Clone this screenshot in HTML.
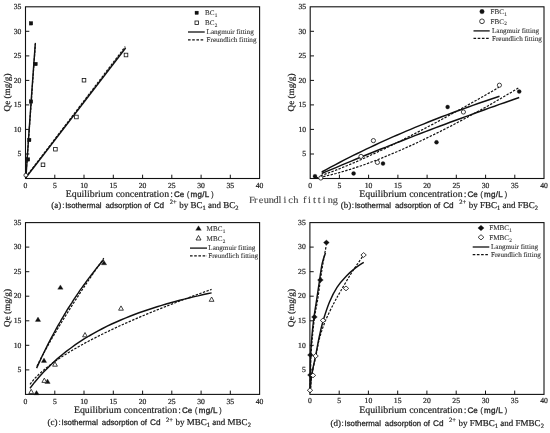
<!DOCTYPE html>
<html><head><meta charset="utf-8"><title>Isothermal adsorption</title>
<style>html,body{margin:0;padding:0;background:#fff}svg{display:block;text-rendering:geometricPrecision}</style></head><body>
<svg width="550" height="433" viewBox="0 0 550 433">
<rect width="550" height="433" fill="#fff"/>
<rect x="25.5" y="6.8" width="234.1" height="171.7" fill="none" stroke="#111" stroke-width="1.1"/>
<line x1="54.8" y1="178.5" x2="54.8" y2="174.7" stroke="#111" stroke-width="1"/>
<line x1="84.0" y1="178.5" x2="84.0" y2="174.7" stroke="#111" stroke-width="1"/>
<line x1="113.3" y1="178.5" x2="113.3" y2="174.7" stroke="#111" stroke-width="1"/>
<line x1="142.6" y1="178.5" x2="142.6" y2="174.7" stroke="#111" stroke-width="1"/>
<line x1="171.8" y1="178.5" x2="171.8" y2="174.7" stroke="#111" stroke-width="1"/>
<line x1="201.1" y1="178.5" x2="201.1" y2="174.7" stroke="#111" stroke-width="1"/>
<line x1="230.3" y1="178.5" x2="230.3" y2="174.7" stroke="#111" stroke-width="1"/>
<line x1="25.5" y1="154.0" x2="29.3" y2="154.0" stroke="#111" stroke-width="1"/>
<line x1="25.5" y1="129.4" x2="29.3" y2="129.4" stroke="#111" stroke-width="1"/>
<line x1="25.5" y1="104.9" x2="29.3" y2="104.9" stroke="#111" stroke-width="1"/>
<line x1="25.5" y1="80.4" x2="29.3" y2="80.4" stroke="#111" stroke-width="1"/>
<line x1="25.5" y1="55.9" x2="29.3" y2="55.9" stroke="#111" stroke-width="1"/>
<line x1="25.5" y1="31.3" x2="29.3" y2="31.3" stroke="#111" stroke-width="1"/>
<path d="M25.9,178.0C26.4,170.8 27.8,149.3 28.8,135.0C29.8,120.7 30.7,107.2 31.8,92.0C32.9,76.8 34.7,51.6 35.3,43.5" fill="none" stroke="#111" stroke-width="1.45"/>
<path d="M25.7,178.0C26.2,171.0 27.8,150.2 28.8,136.0C29.8,121.8 30.8,108.6 31.9,93.0C33.0,77.4 34.9,50.8 35.5,42.3" fill="none" stroke="#111" stroke-width="1.2" stroke-dasharray="2.4 1.4"/>
<path d="M25.6,178.0L125.6,48.0" fill="none" stroke="#111" stroke-width="1.45"/>
<path d="M25.6,177.4L125.3,46.6" fill="none" stroke="#111" stroke-width="1.2" stroke-dasharray="2.4 1.4"/>
<rect x="29.20" y="21.50" width="3.60" height="3.60" fill="#111" stroke="#111" stroke-width="0.3"/>
<rect x="33.80" y="62.20" width="3.60" height="3.60" fill="#111" stroke="#111" stroke-width="0.3"/>
<rect x="29.20" y="99.80" width="3.60" height="3.60" fill="#111" stroke="#111" stroke-width="0.3"/>
<rect x="27.40" y="138.20" width="3.60" height="3.60" fill="#111" stroke="#111" stroke-width="0.3"/>
<rect x="26.20" y="157.60" width="3.60" height="3.60" fill="#111" stroke="#111" stroke-width="0.3"/>
<rect x="124.20" y="53.20" width="3.60" height="3.60" fill="#fff" stroke="#111" stroke-width="0.8"/>
<rect x="82.20" y="78.40" width="3.60" height="3.60" fill="#fff" stroke="#111" stroke-width="0.8"/>
<rect x="74.60" y="115.20" width="3.60" height="3.60" fill="#fff" stroke="#111" stroke-width="0.8"/>
<rect x="53.60" y="147.40" width="3.60" height="3.60" fill="#fff" stroke="#111" stroke-width="0.8"/>
<rect x="41.20" y="163.00" width="3.60" height="3.60" fill="#fff" stroke="#111" stroke-width="0.8"/>
<circle cx="25.8" cy="175.2" r="1.89" fill="#fff" stroke="#111" stroke-width="0.8"/>
<text x="25.5" y="187.5" font-family='"Liberation Serif", serif' font-size="7.7" text-anchor="middle" fill="#222" stroke="#222" stroke-width="0.2">0</text>
<text x="54.8" y="187.5" font-family='"Liberation Serif", serif' font-size="7.7" text-anchor="middle" fill="#222" stroke="#222" stroke-width="0.2">5</text>
<text x="84.0" y="187.5" font-family='"Liberation Serif", serif' font-size="7.7" text-anchor="middle" fill="#222" stroke="#222" stroke-width="0.2">10</text>
<text x="113.3" y="187.5" font-family='"Liberation Serif", serif' font-size="7.7" text-anchor="middle" fill="#222" stroke="#222" stroke-width="0.2">15</text>
<text x="142.6" y="187.5" font-family='"Liberation Serif", serif' font-size="7.7" text-anchor="middle" fill="#222" stroke="#222" stroke-width="0.2">20</text>
<text x="171.8" y="187.5" font-family='"Liberation Serif", serif' font-size="7.7" text-anchor="middle" fill="#222" stroke="#222" stroke-width="0.2">25</text>
<text x="201.1" y="187.5" font-family='"Liberation Serif", serif' font-size="7.7" text-anchor="middle" fill="#222" stroke="#222" stroke-width="0.2">30</text>
<text x="230.3" y="187.5" font-family='"Liberation Serif", serif' font-size="7.7" text-anchor="middle" fill="#222" stroke="#222" stroke-width="0.2">35</text>
<text x="259.6" y="187.5" font-family='"Liberation Serif", serif' font-size="7.7" text-anchor="middle" fill="#222" stroke="#222" stroke-width="0.2">40</text>
<text x="21.4" y="156.2" font-family='"Liberation Serif", serif' font-size="7.7" text-anchor="end" fill="#222" stroke="#222" stroke-width="0.2">5</text>
<text x="21.4" y="131.6" font-family='"Liberation Serif", serif' font-size="7.7" text-anchor="end" fill="#222" stroke="#222" stroke-width="0.2">10</text>
<text x="21.4" y="107.1" font-family='"Liberation Serif", serif' font-size="7.7" text-anchor="end" fill="#222" stroke="#222" stroke-width="0.2">15</text>
<text x="21.4" y="82.6" font-family='"Liberation Serif", serif' font-size="7.7" text-anchor="end" fill="#222" stroke="#222" stroke-width="0.2">20</text>
<text x="21.4" y="58.1" font-family='"Liberation Serif", serif' font-size="7.7" text-anchor="end" fill="#222" stroke="#222" stroke-width="0.2">25</text>
<text x="21.4" y="33.5" font-family='"Liberation Serif", serif' font-size="7.7" text-anchor="end" fill="#222" stroke="#222" stroke-width="0.2">30</text>
<text x="21.4" y="9.0" font-family='"Liberation Serif", serif' font-size="7.7" text-anchor="end" fill="#222" stroke="#222" stroke-width="0.2">35</text>
<text transform="translate(10.3,92.5) rotate(-90)" font-family='"Liberation Serif", serif' font-size="9.2" text-anchor="middle" fill="#222" stroke="#222" stroke-width="0.2">Qe (mg/g)</text>
<text x="65.8" y="196.7" font-size="9.82" fill="#222" stroke="#222" stroke-width="0.2" font-family='"Liberation Serif", serif'>Equilibrium concentration</text>
<text x="170.4" y="196.7" font-family='"Liberation Sans", sans-serif' font-size="8" fill="#222" stroke="#222" stroke-width="0.3">:</text>
<text x="174.0" y="196.7" font-family='"Liberation Sans", sans-serif' font-size="8" fill="#222" stroke="#222" stroke-width="0.3">Ce</text>
<text x="186.7" y="196.7" font-family='"Liberation Sans", sans-serif' font-size="8.4" fill="#222" stroke="#222" stroke-width="0.1">(</text>
<text x="190.6" y="196.7" font-family='"Liberation Sans", sans-serif' font-size="8" fill="#222" stroke="#222" stroke-width="0.3" letter-spacing="0.3">mg/L</text>
<text x="211.0" y="196.7" font-family='"Liberation Sans", sans-serif' font-size="8.4" fill="#222" stroke="#222" stroke-width="0.1">)</text>
<text x="51.3" y="207.9" font-size="9" fill="#222" stroke="#222" stroke-width="0.2" font-family='"Liberation Serif", serif'>(a)</text>
<text x="62.2" y="207.7" font-family='"Liberation Sans", sans-serif' font-size="8" fill="#222" stroke="#222" stroke-width="0.2">:</text>
<text x="65.2" y="207.7" font-family='"Liberation Sans", sans-serif' font-size="7.8" fill="#222" stroke="#222" stroke-width="0.25">Isothermal</text>
<text x="105.5" y="207.7" font-family='"Liberation Sans", sans-serif' font-size="7.8" fill="#222" stroke="#222" stroke-width="0.25">adsorption</text>
<text x="144.2" y="207.7" font-family='"Liberation Sans", sans-serif' font-size="7.8" fill="#222" stroke="#222" stroke-width="0.25">of</text>
<text x="153.7" y="207.7" font-family='"Liberation Sans", sans-serif' font-size="8.2" fill="#222" stroke="#222" stroke-width="0.25">Cd</text>
<text x="169.7" y="204.3" font-size="6.5" fill="#222" stroke="#222" stroke-width="0.2" font-family='"Liberation Serif", serif'>2+</text>
<text x="179.3" y="207.9" font-size="9" fill="#222" stroke="#222" stroke-width="0.2" font-family='"Liberation Serif", serif'>by BC<tspan font-size="6.5" dy="2">1</tspan><tspan dy="-2"> and BC</tspan><tspan font-size="6.5" dy="2">2</tspan></text>
<rect x="194.99" y="11.09" width="3.42" height="3.42" fill="#111" stroke="#111" stroke-width="0.3"/>
<rect x="194.99" y="20.99" width="3.42" height="3.42" fill="#fff" stroke="#111" stroke-width="0.8"/>
<line x1="188" y1="32" x2="204.7" y2="32" stroke="#111" stroke-width="1.3"/>
<line x1="188" y1="39.9" x2="204.7" y2="39.9" stroke="#111" stroke-width="1.3" stroke-dasharray="2.6 1.6"/>
<text x="205" y="15.1" font-size="7.1" fill="#333" stroke="#333" stroke-width="0.1" font-family='"Liberation Serif", serif'>BC<tspan font-size="5.2" dy="1.8" dx="0.3">1</tspan></text>
<text x="205" y="24.7" font-size="7.1" fill="#333" stroke="#333" stroke-width="0.1" font-family='"Liberation Serif", serif'>BC<tspan font-size="5.2" dy="1.8" dx="0.3">2</tspan></text>
<text x="206.6" y="34" font-size="7.1" fill="#333" stroke="#333" stroke-width="0.1" font-family='"Liberation Serif", serif'>Langmuir fitting</text>
<text x="206.6" y="42" font-size="7.1" fill="#333" stroke="#333" stroke-width="0.1" font-family='"Liberation Serif", serif'>Freundlich fitting</text>
<text transform="translate(249,202.6) scale(1.08,1)" x="0.00 4.56 9.11 13.67 18.22 22.78 27.33 31.89 36.44 41.00 45.56 50.11 54.67 59.22 63.78 68.33 72.89 77.44" y="0" font-family='"Liberation Serif", serif' font-size="9.6" fill="#444" stroke="#444" stroke-width="0.1">Freundlich fitting</text>
<rect x="310.2" y="6.8" width="233.8" height="171.7" fill="none" stroke="#111" stroke-width="1.1"/>
<line x1="339.4" y1="178.5" x2="339.4" y2="174.7" stroke="#111" stroke-width="1"/>
<line x1="368.6" y1="178.5" x2="368.6" y2="174.7" stroke="#111" stroke-width="1"/>
<line x1="397.9" y1="178.5" x2="397.9" y2="174.7" stroke="#111" stroke-width="1"/>
<line x1="427.1" y1="178.5" x2="427.1" y2="174.7" stroke="#111" stroke-width="1"/>
<line x1="456.3" y1="178.5" x2="456.3" y2="174.7" stroke="#111" stroke-width="1"/>
<line x1="485.6" y1="178.5" x2="485.6" y2="174.7" stroke="#111" stroke-width="1"/>
<line x1="514.8" y1="178.5" x2="514.8" y2="174.7" stroke="#111" stroke-width="1"/>
<line x1="310.2" y1="154.0" x2="314.0" y2="154.0" stroke="#111" stroke-width="1"/>
<line x1="310.2" y1="129.4" x2="314.0" y2="129.4" stroke="#111" stroke-width="1"/>
<line x1="310.2" y1="104.9" x2="314.0" y2="104.9" stroke="#111" stroke-width="1"/>
<line x1="310.2" y1="80.4" x2="314.0" y2="80.4" stroke="#111" stroke-width="1"/>
<line x1="310.2" y1="55.9" x2="314.0" y2="55.9" stroke="#111" stroke-width="1"/>
<line x1="310.2" y1="31.3" x2="314.0" y2="31.3" stroke="#111" stroke-width="1"/>
<path d="M321.7,172.0L326.2,169.6L330.6,167.2L335.1,164.8L339.5,162.5L343.9,160.2L348.4,157.9L352.8,155.7L357.3,153.5L361.7,151.3L366.2,149.2L370.6,147.1L375.1,145.0L379.5,142.9L383.9,140.9L388.4,138.9L392.8,136.9L397.3,135.0L401.7,133.1L406.2,131.2L410.6,129.3L415.1,127.4L419.5,125.6L424.0,123.8L428.4,122.0L432.8,120.3L437.3,118.5L441.7,116.8L446.2,115.1L450.6,113.5L455.1,111.8L459.5,110.2L464.0,108.6L468.4,107.0L472.8,105.4L477.3,103.8L481.7,102.3L486.2,100.8L490.6,99.3L495.1,97.8L499.5,96.3" fill="none" stroke="#111" stroke-width="1.45" stroke-linejoin="round"/>
<path d="M321.7,173.5L326.7,171.4L331.6,169.3L336.5,167.3L341.5,165.2L346.4,163.1L351.3,161.1L356.3,159.0L361.2,157.0L366.1,155.0L371.1,153.0L376.0,151.0L380.9,149.0L385.9,147.1L390.8,145.1L395.8,143.1L400.7,141.2L405.6,139.3L410.6,137.3L415.5,135.4L420.4,133.5L425.4,131.6L430.3,129.8L435.2,127.9L440.2,126.0L445.1,124.2L450.1,122.3L455.0,120.5L459.9,118.7L464.9,116.9L469.8,115.1L474.7,113.3L479.7,111.5L484.6,109.7L489.5,107.9L494.5,106.2L499.4,104.4L504.4,102.7L509.3,101.0L514.2,99.2L519.2,97.5" fill="none" stroke="#111" stroke-width="1.45" stroke-linejoin="round"/>
<path d="M320.7,175.6L325.2,174.1L329.6,172.5L334.1,170.9L338.5,169.1L343.0,167.3L347.5,165.5L351.9,163.6L356.4,161.7L360.8,159.7L365.3,157.7L369.7,155.7L374.2,153.6L378.6,151.5L383.1,149.4L387.6,147.3L392.0,145.1L396.5,142.9L400.9,140.7L405.4,138.4L409.8,136.2L414.3,133.9L418.7,131.6L423.2,129.3L427.6,126.9L432.1,124.6L436.6,122.2L441.0,119.8L445.5,117.4L449.9,115.0L454.4,112.5L458.8,110.1L463.3,107.6L467.7,105.1L472.2,102.6L476.7,100.1L481.1,97.6L485.6,95.0L490.0,92.5L494.5,89.9L498.9,87.3" fill="none" stroke="#111" stroke-width="1.2" stroke-linejoin="round" stroke-dasharray="2.4 1.4"/>
<path d="M315.7,177.9L320.8,177.1L325.8,176.0L330.9,174.8L336.0,173.5L341.0,172.1L346.1,170.6L351.2,169.1L356.2,167.4L361.3,165.7L366.4,163.9L371.4,162.0L376.5,160.1L381.6,158.1L386.6,156.0L391.7,153.9L396.8,151.8L401.8,149.6L406.9,147.3L412.0,145.1L417.0,142.7L422.1,140.3L427.1,137.9L432.2,135.4L437.3,132.9L442.3,130.4L447.4,127.8L452.5,125.2L457.5,122.5L462.6,119.8L467.7,117.1L472.7,114.3L477.8,111.5L482.9,108.7L487.9,105.9L493.0,103.0L498.1,100.0L503.1,97.1L508.2,94.1L513.3,91.1L518.3,88.0" fill="none" stroke="#111" stroke-width="1.2" stroke-linejoin="round" stroke-dasharray="2.4 1.4"/>
<circle cx="315.0" cy="176.2" r="2.00" fill="#111" stroke="#111" stroke-width="0.3"/>
<circle cx="353.6" cy="173.4" r="2.00" fill="#111" stroke="#111" stroke-width="0.3"/>
<circle cx="383.0" cy="163.6" r="2.00" fill="#111" stroke="#111" stroke-width="0.3"/>
<circle cx="447.6" cy="107.0" r="2.00" fill="#111" stroke="#111" stroke-width="0.3"/>
<circle cx="436.5" cy="142.3" r="2.00" fill="#111" stroke="#111" stroke-width="0.3"/>
<circle cx="519.2" cy="91.6" r="2.00" fill="#111" stroke="#111" stroke-width="0.3"/>
<circle cx="320.8" cy="178.0" r="2.10" fill="#fff" stroke="#111" stroke-width="0.8"/>
<circle cx="361.0" cy="156.4" r="2.10" fill="#fff" stroke="#111" stroke-width="0.8"/>
<circle cx="373.4" cy="140.6" r="2.10" fill="#fff" stroke="#111" stroke-width="0.8"/>
<circle cx="377.4" cy="162.4" r="2.10" fill="#fff" stroke="#111" stroke-width="0.8"/>
<circle cx="463.4" cy="112.0" r="2.10" fill="#fff" stroke="#111" stroke-width="0.8"/>
<circle cx="499.4" cy="85.2" r="2.10" fill="#fff" stroke="#111" stroke-width="0.8"/>
<text x="310.2" y="187.5" font-family='"Liberation Serif", serif' font-size="7.7" text-anchor="middle" fill="#222" stroke="#222" stroke-width="0.2">0</text>
<text x="339.4" y="187.5" font-family='"Liberation Serif", serif' font-size="7.7" text-anchor="middle" fill="#222" stroke="#222" stroke-width="0.2">5</text>
<text x="368.6" y="187.5" font-family='"Liberation Serif", serif' font-size="7.7" text-anchor="middle" fill="#222" stroke="#222" stroke-width="0.2">10</text>
<text x="397.9" y="187.5" font-family='"Liberation Serif", serif' font-size="7.7" text-anchor="middle" fill="#222" stroke="#222" stroke-width="0.2">15</text>
<text x="427.1" y="187.5" font-family='"Liberation Serif", serif' font-size="7.7" text-anchor="middle" fill="#222" stroke="#222" stroke-width="0.2">20</text>
<text x="456.3" y="187.5" font-family='"Liberation Serif", serif' font-size="7.7" text-anchor="middle" fill="#222" stroke="#222" stroke-width="0.2">25</text>
<text x="485.6" y="187.5" font-family='"Liberation Serif", serif' font-size="7.7" text-anchor="middle" fill="#222" stroke="#222" stroke-width="0.2">30</text>
<text x="514.8" y="187.5" font-family='"Liberation Serif", serif' font-size="7.7" text-anchor="middle" fill="#222" stroke="#222" stroke-width="0.2">35</text>
<text x="544.0" y="187.5" font-family='"Liberation Serif", serif' font-size="7.7" text-anchor="middle" fill="#222" stroke="#222" stroke-width="0.2">40</text>
<text x="306.1" y="156.2" font-family='"Liberation Serif", serif' font-size="7.7" text-anchor="end" fill="#222" stroke="#222" stroke-width="0.2">5</text>
<text x="306.1" y="131.6" font-family='"Liberation Serif", serif' font-size="7.7" text-anchor="end" fill="#222" stroke="#222" stroke-width="0.2">10</text>
<text x="306.1" y="107.1" font-family='"Liberation Serif", serif' font-size="7.7" text-anchor="end" fill="#222" stroke="#222" stroke-width="0.2">15</text>
<text x="306.1" y="82.6" font-family='"Liberation Serif", serif' font-size="7.7" text-anchor="end" fill="#222" stroke="#222" stroke-width="0.2">20</text>
<text x="306.1" y="58.1" font-family='"Liberation Serif", serif' font-size="7.7" text-anchor="end" fill="#222" stroke="#222" stroke-width="0.2">25</text>
<text x="306.1" y="33.5" font-family='"Liberation Serif", serif' font-size="7.7" text-anchor="end" fill="#222" stroke="#222" stroke-width="0.2">30</text>
<text x="306.1" y="9.0" font-family='"Liberation Serif", serif' font-size="7.7" text-anchor="end" fill="#222" stroke="#222" stroke-width="0.2">35</text>
<text transform="translate(293.7,92.5) rotate(-90)" font-family='"Liberation Serif", serif' font-size="9.2" text-anchor="middle" fill="#222" stroke="#222" stroke-width="0.2">Qe (mg/g)</text>
<text x="359.3" y="196.7" font-size="9.82" fill="#222" stroke="#222" stroke-width="0.2" font-family='"Liberation Serif", serif'>Equilibrium concentration</text>
<text x="463.9" y="196.7" font-family='"Liberation Sans", sans-serif' font-size="8" fill="#222" stroke="#222" stroke-width="0.3">:</text>
<text x="467.5" y="196.7" font-family='"Liberation Sans", sans-serif' font-size="8" fill="#222" stroke="#222" stroke-width="0.3">Ce</text>
<text x="480.2" y="196.7" font-family='"Liberation Sans", sans-serif' font-size="8.4" fill="#222" stroke="#222" stroke-width="0.1">(</text>
<text x="484.1" y="196.7" font-family='"Liberation Sans", sans-serif' font-size="8" fill="#222" stroke="#222" stroke-width="0.3" letter-spacing="0.3">mg/L</text>
<text x="504.5" y="196.7" font-family='"Liberation Sans", sans-serif' font-size="8.4" fill="#222" stroke="#222" stroke-width="0.1">)</text>
<text x="340.8" y="207.9" font-size="9" fill="#222" stroke="#222" stroke-width="0.2" font-family='"Liberation Serif", serif'>(b)</text>
<text x="351.7" y="207.7" font-family='"Liberation Sans", sans-serif' font-size="8" fill="#222" stroke="#222" stroke-width="0.2">:</text>
<text x="354.7" y="207.7" font-family='"Liberation Sans", sans-serif' font-size="7.8" fill="#222" stroke="#222" stroke-width="0.25">Isothermal</text>
<text x="395.0" y="207.7" font-family='"Liberation Sans", sans-serif' font-size="7.8" fill="#222" stroke="#222" stroke-width="0.25">adsorption</text>
<text x="433.7" y="207.7" font-family='"Liberation Sans", sans-serif' font-size="7.8" fill="#222" stroke="#222" stroke-width="0.25">of</text>
<text x="443.2" y="207.7" font-family='"Liberation Sans", sans-serif' font-size="8.2" fill="#222" stroke="#222" stroke-width="0.25">Cd</text>
<text x="459.2" y="204.3" font-size="6.5" fill="#222" stroke="#222" stroke-width="0.2" font-family='"Liberation Serif", serif'>2+</text>
<text x="468.8" y="207.9" font-size="9" fill="#222" stroke="#222" stroke-width="0.2" font-family='"Liberation Serif", serif'>by FBC<tspan font-size="6.5" dy="2">1</tspan><tspan dy="-2"> and FBC</tspan><tspan font-size="6.5" dy="2">2</tspan></text>
<circle cx="482.0" cy="11.6" r="2.24" fill="#111" stroke="#111" stroke-width="0.3"/>
<circle cx="482.0" cy="21.3" r="2.35" fill="#fff" stroke="#111" stroke-width="0.8"/>
<line x1="473.5" y1="30.9" x2="489.7" y2="30.9" stroke="#111" stroke-width="1.3"/>
<line x1="473.5" y1="38.3" x2="489.7" y2="38.3" stroke="#111" stroke-width="1.3" stroke-dasharray="2.6 1.6"/>
<text x="490.5" y="13.9" font-size="7.1" fill="#333" stroke="#333" stroke-width="0.1" font-family='"Liberation Serif", serif'>FBC<tspan font-size="5.2" dy="1.8" dx="0.3">1</tspan></text>
<text x="490.5" y="23.5" font-size="7.1" fill="#333" stroke="#333" stroke-width="0.1" font-family='"Liberation Serif", serif'>FBC<tspan font-size="5.2" dy="1.8" dx="0.3">2</tspan></text>
<text x="492" y="32.9" font-size="7.1" fill="#333" stroke="#333" stroke-width="0.1" font-family='"Liberation Serif", serif'>Langmuir fitting</text>
<text x="492" y="40.6" font-size="7.1" fill="#333" stroke="#333" stroke-width="0.1" font-family='"Liberation Serif", serif'>Freundlich fitting</text>
<rect x="25.5" y="222.6" width="234.1" height="171.8" fill="none" stroke="#111" stroke-width="1.1"/>
<line x1="54.8" y1="394.4" x2="54.8" y2="390.6" stroke="#111" stroke-width="1"/>
<line x1="84.0" y1="394.4" x2="84.0" y2="390.6" stroke="#111" stroke-width="1"/>
<line x1="113.3" y1="394.4" x2="113.3" y2="390.6" stroke="#111" stroke-width="1"/>
<line x1="142.6" y1="394.4" x2="142.6" y2="390.6" stroke="#111" stroke-width="1"/>
<line x1="171.8" y1="394.4" x2="171.8" y2="390.6" stroke="#111" stroke-width="1"/>
<line x1="201.1" y1="394.4" x2="201.1" y2="390.6" stroke="#111" stroke-width="1"/>
<line x1="230.3" y1="394.4" x2="230.3" y2="390.6" stroke="#111" stroke-width="1"/>
<line x1="25.5" y1="369.9" x2="29.3" y2="369.9" stroke="#111" stroke-width="1"/>
<line x1="25.5" y1="345.3" x2="29.3" y2="345.3" stroke="#111" stroke-width="1"/>
<line x1="25.5" y1="320.8" x2="29.3" y2="320.8" stroke="#111" stroke-width="1"/>
<line x1="25.5" y1="296.2" x2="29.3" y2="296.2" stroke="#111" stroke-width="1"/>
<line x1="25.5" y1="271.7" x2="29.3" y2="271.7" stroke="#111" stroke-width="1"/>
<line x1="25.5" y1="247.1" x2="29.3" y2="247.1" stroke="#111" stroke-width="1"/>
<path d="M36.6,368.1L38.3,364.4L40.0,360.8L41.6,357.2L43.3,353.7L45.0,350.3L46.7,346.9L48.3,343.6L50.0,340.4L51.7,337.2L53.4,334.0L55.0,331.0L56.7,327.9L58.4,324.9L60.1,322.0L61.7,319.1L63.4,316.3L65.1,313.5L66.7,310.7L68.4,308.0L70.1,305.4L71.8,302.8L73.4,300.2L75.1,297.6L76.8,295.1L78.5,292.7L80.1,290.2L81.8,287.8L83.5,285.5L85.2,283.2L86.8,280.9L88.5,278.6L90.2,276.4L91.9,274.2L93.5,272.1L95.2,269.9L96.9,267.8L98.6,265.8L100.2,263.7L101.9,261.7L103.6,259.7" fill="none" stroke="#111" stroke-width="1.45" stroke-linejoin="round"/>
<path d="M37.0,366.2L38.6,362.9L40.3,359.6L42.0,356.4L43.7,353.3L45.3,350.2L47.0,347.2L48.7,344.2L50.3,341.3L52.0,338.3L53.7,335.5L55.4,332.6L57.0,329.8L58.7,327.0L60.4,324.2L62.0,321.5L63.7,318.8L65.4,316.1L67.0,313.4L68.7,310.7L70.4,308.1L72.1,305.4L73.7,302.8L75.4,300.2L77.1,297.7L78.7,295.1L80.4,292.6L82.1,290.0L83.8,287.5L85.4,285.0L87.1,282.5L88.8,280.0L90.4,277.6L92.1,275.1L93.8,272.7L95.5,270.2L97.1,267.8L98.8,265.4L100.5,263.0L102.1,260.6L103.8,258.2" fill="none" stroke="#111" stroke-width="1.2" stroke-linejoin="round" stroke-dasharray="2.4 1.4"/>
<path d="M30.0,388.2L34.5,382.4L39.1,377.1L43.6,372.1L48.2,367.4L52.7,363.0L57.2,358.9L61.8,355.0L66.3,351.4L70.9,348.0L75.4,344.7L79.9,341.7L84.5,338.7L89.0,336.0L93.6,333.4L98.1,330.9L102.6,328.5L107.2,326.2L111.7,324.0L116.3,322.0L120.8,320.0L125.3,318.1L129.9,316.3L134.4,314.5L139.0,312.8L143.5,311.2L148.0,309.7L152.6,308.2L157.1,306.8L161.7,305.4L166.2,304.0L170.7,302.7L175.3,301.5L179.8,300.3L184.4,299.1L188.9,298.0L193.4,296.9L198.0,295.9L202.5,294.8L207.1,293.8L211.6,292.9" fill="none" stroke="#111" stroke-width="1.45" stroke-linejoin="round"/>
<path d="M30.0,384.3L34.5,378.7L39.1,374.1L43.6,370.1L48.2,366.4L52.7,363.0L57.2,359.8L61.8,356.8L66.3,353.9L70.9,351.1L75.4,348.5L79.9,345.9L84.5,343.4L89.0,340.9L93.6,338.6L98.1,336.3L102.6,334.0L107.2,331.8L111.7,329.6L116.3,327.5L120.8,325.4L125.3,323.4L129.9,321.4L134.4,319.4L139.0,317.4L143.5,315.5L148.0,313.6L152.6,311.7L157.1,309.9L161.7,308.1L166.2,306.3L170.7,304.5L175.3,302.8L179.8,301.0L184.4,299.3L188.9,297.6L193.4,295.9L198.0,294.3L202.5,292.6L207.1,291.0L211.6,289.4" fill="none" stroke="#111" stroke-width="1.2" stroke-linejoin="round" stroke-dasharray="2.4 1.4"/>
<path d="M60.4,284.9L63.1,289.2L57.7,289.2Z" fill="#111" stroke="#111" stroke-width="0.3"/>
<path d="M104.0,260.5L106.7,264.8L101.3,264.8Z" fill="#111" stroke="#111" stroke-width="0.3"/>
<path d="M38.0,317.1L40.7,321.4L35.3,321.4Z" fill="#111" stroke="#111" stroke-width="0.3"/>
<path d="M44.0,358.1L46.7,362.4L41.3,362.4Z" fill="#111" stroke="#111" stroke-width="0.3"/>
<path d="M47.5,379.1L50.2,383.4L44.8,383.4Z" fill="#111" stroke="#111" stroke-width="0.3"/>
<path d="M36.5,390.5L39.2,394.8L33.8,394.8Z" fill="#111" stroke="#111" stroke-width="0.3"/>
<path d="M85.0,332.5L87.4,336.8L82.6,336.8Z" fill="#fff" stroke="#111" stroke-width="0.8"/>
<path d="M55.0,361.9L57.4,366.2L52.6,366.2Z" fill="#fff" stroke="#111" stroke-width="0.8"/>
<path d="M44.3,378.1L46.7,382.4L41.9,382.4Z" fill="#fff" stroke="#111" stroke-width="0.8"/>
<path d="M121.0,305.9L123.4,310.2L118.6,310.2Z" fill="#fff" stroke="#111" stroke-width="0.8"/>
<path d="M211.6,297.0L214.0,301.3L209.2,301.3Z" fill="#fff" stroke="#111" stroke-width="0.8"/>
<path d="M31.2,389.3L33.6,393.6L28.8,393.6Z" fill="#fff" stroke="#111" stroke-width="0.8"/>
<text x="25.5" y="403.6" font-family='"Liberation Serif", serif' font-size="7.7" text-anchor="middle" fill="#222" stroke="#222" stroke-width="0.2">0</text>
<text x="54.8" y="403.6" font-family='"Liberation Serif", serif' font-size="7.7" text-anchor="middle" fill="#222" stroke="#222" stroke-width="0.2">5</text>
<text x="84.0" y="403.6" font-family='"Liberation Serif", serif' font-size="7.7" text-anchor="middle" fill="#222" stroke="#222" stroke-width="0.2">10</text>
<text x="113.3" y="403.6" font-family='"Liberation Serif", serif' font-size="7.7" text-anchor="middle" fill="#222" stroke="#222" stroke-width="0.2">15</text>
<text x="142.6" y="403.6" font-family='"Liberation Serif", serif' font-size="7.7" text-anchor="middle" fill="#222" stroke="#222" stroke-width="0.2">20</text>
<text x="171.8" y="403.6" font-family='"Liberation Serif", serif' font-size="7.7" text-anchor="middle" fill="#222" stroke="#222" stroke-width="0.2">25</text>
<text x="201.1" y="403.6" font-family='"Liberation Serif", serif' font-size="7.7" text-anchor="middle" fill="#222" stroke="#222" stroke-width="0.2">30</text>
<text x="230.3" y="403.6" font-family='"Liberation Serif", serif' font-size="7.7" text-anchor="middle" fill="#222" stroke="#222" stroke-width="0.2">35</text>
<text x="259.6" y="403.6" font-family='"Liberation Serif", serif' font-size="7.7" text-anchor="middle" fill="#222" stroke="#222" stroke-width="0.2">40</text>
<text x="21.4" y="372.1" font-family='"Liberation Serif", serif' font-size="7.7" text-anchor="end" fill="#222" stroke="#222" stroke-width="0.2">5</text>
<text x="21.4" y="347.5" font-family='"Liberation Serif", serif' font-size="7.7" text-anchor="end" fill="#222" stroke="#222" stroke-width="0.2">10</text>
<text x="21.4" y="323.0" font-family='"Liberation Serif", serif' font-size="7.7" text-anchor="end" fill="#222" stroke="#222" stroke-width="0.2">15</text>
<text x="21.4" y="298.4" font-family='"Liberation Serif", serif' font-size="7.7" text-anchor="end" fill="#222" stroke="#222" stroke-width="0.2">20</text>
<text x="21.4" y="273.9" font-family='"Liberation Serif", serif' font-size="7.7" text-anchor="end" fill="#222" stroke="#222" stroke-width="0.2">25</text>
<text x="21.4" y="249.3" font-family='"Liberation Serif", serif' font-size="7.7" text-anchor="end" fill="#222" stroke="#222" stroke-width="0.2">30</text>
<text x="21.4" y="224.8" font-family='"Liberation Serif", serif' font-size="7.7" text-anchor="end" fill="#222" stroke="#222" stroke-width="0.2">35</text>
<text transform="translate(10.3,308) rotate(-90)" font-family='"Liberation Serif", serif' font-size="9.2" text-anchor="middle" fill="#222" stroke="#222" stroke-width="0.2">Qe (mg/g)</text>
<text x="73.9" y="413.3" font-size="9.82" fill="#222" stroke="#222" stroke-width="0.2" font-family='"Liberation Serif", serif'>Equilibrium concentration</text>
<text x="178.5" y="413.3" font-family='"Liberation Sans", sans-serif' font-size="8" fill="#222" stroke="#222" stroke-width="0.3">:</text>
<text x="182.1" y="413.3" font-family='"Liberation Sans", sans-serif' font-size="8" fill="#222" stroke="#222" stroke-width="0.3">Ce</text>
<text x="194.8" y="413.3" font-family='"Liberation Sans", sans-serif' font-size="8.4" fill="#222" stroke="#222" stroke-width="0.1">(</text>
<text x="198.7" y="413.3" font-family='"Liberation Sans", sans-serif' font-size="8" fill="#222" stroke="#222" stroke-width="0.3" letter-spacing="0.3">mg/L</text>
<text x="219.1" y="413.3" font-family='"Liberation Sans", sans-serif' font-size="8.4" fill="#222" stroke="#222" stroke-width="0.1">)</text>
<text x="47.6" y="425.4" font-size="9" fill="#222" stroke="#222" stroke-width="0.2" font-family='"Liberation Serif", serif'>(c)</text>
<text x="58.5" y="425.2" font-family='"Liberation Sans", sans-serif' font-size="8" fill="#222" stroke="#222" stroke-width="0.2">:</text>
<text x="61.5" y="425.2" font-family='"Liberation Sans", sans-serif' font-size="7.8" fill="#222" stroke="#222" stroke-width="0.25">Isothermal</text>
<text x="101.8" y="425.2" font-family='"Liberation Sans", sans-serif' font-size="7.8" fill="#222" stroke="#222" stroke-width="0.25">adsorption</text>
<text x="140.5" y="425.2" font-family='"Liberation Sans", sans-serif' font-size="7.8" fill="#222" stroke="#222" stroke-width="0.25">of</text>
<text x="150.0" y="425.2" font-family='"Liberation Sans", sans-serif' font-size="8.2" fill="#222" stroke="#222" stroke-width="0.25">Cd</text>
<text x="166.0" y="421.8" font-size="6.5" fill="#222" stroke="#222" stroke-width="0.2" font-family='"Liberation Serif", serif'>2+</text>
<text x="175.6" y="425.4" font-size="9" fill="#222" stroke="#222" stroke-width="0.2" font-family='"Liberation Serif", serif'>by MBC<tspan font-size="6.5" dy="2">1</tspan><tspan dy="-2"> and MBC</tspan><tspan font-size="6.5" dy="2">2</tspan></text>
<path d="M198.5,225.8L201.3,230.3L195.7,230.3Z" fill="#111" stroke="#111" stroke-width="0.3"/>
<path d="M198.5,235.5L201.0,240.0L196.0,240.0Z" fill="#fff" stroke="#111" stroke-width="0.8"/>
<line x1="190" y1="248.1" x2="207" y2="248.1" stroke="#111" stroke-width="1.3"/>
<line x1="190" y1="255.9" x2="207" y2="255.9" stroke="#111" stroke-width="1.3" stroke-dasharray="2.6 1.6"/>
<text x="206.6" y="231.1" font-size="7.1" fill="#333" stroke="#333" stroke-width="0.1" font-family='"Liberation Serif", serif'>MBC<tspan font-size="5.2" dy="1.8" dx="0.3">1</tspan></text>
<text x="206.6" y="240.7" font-size="7.1" fill="#333" stroke="#333" stroke-width="0.1" font-family='"Liberation Serif", serif'>MBC<tspan font-size="5.2" dy="1.8" dx="0.3">2</tspan></text>
<text x="208.3" y="250" font-size="7.1" fill="#333" stroke="#333" stroke-width="0.1" font-family='"Liberation Serif", serif'>Langmuir fitting</text>
<text x="208.3" y="257.9" font-size="7.1" fill="#333" stroke="#333" stroke-width="0.1" font-family='"Liberation Serif", serif'>Freundlich fitting</text>
<rect x="309.9" y="222.6" width="234.1" height="171.8" fill="none" stroke="#111" stroke-width="1.1"/>
<line x1="339.2" y1="394.4" x2="339.2" y2="390.6" stroke="#111" stroke-width="1"/>
<line x1="368.4" y1="394.4" x2="368.4" y2="390.6" stroke="#111" stroke-width="1"/>
<line x1="397.7" y1="394.4" x2="397.7" y2="390.6" stroke="#111" stroke-width="1"/>
<line x1="426.9" y1="394.4" x2="426.9" y2="390.6" stroke="#111" stroke-width="1"/>
<line x1="456.2" y1="394.4" x2="456.2" y2="390.6" stroke="#111" stroke-width="1"/>
<line x1="485.5" y1="394.4" x2="485.5" y2="390.6" stroke="#111" stroke-width="1"/>
<line x1="514.7" y1="394.4" x2="514.7" y2="390.6" stroke="#111" stroke-width="1"/>
<line x1="309.9" y1="369.9" x2="313.7" y2="369.9" stroke="#111" stroke-width="1"/>
<line x1="309.9" y1="345.3" x2="313.7" y2="345.3" stroke="#111" stroke-width="1"/>
<line x1="309.9" y1="320.8" x2="313.7" y2="320.8" stroke="#111" stroke-width="1"/>
<line x1="309.9" y1="296.2" x2="313.7" y2="296.2" stroke="#111" stroke-width="1"/>
<line x1="309.9" y1="271.7" x2="313.7" y2="271.7" stroke="#111" stroke-width="1"/>
<line x1="309.9" y1="247.1" x2="313.7" y2="247.1" stroke="#111" stroke-width="1"/>
<path d="M310.0,393.0C310.1,390.0 310.2,381.3 310.3,375.0C310.4,368.7 310.3,361.7 310.6,355.0C310.9,348.3 311.4,341.3 312.0,335.0C312.6,328.7 313.2,322.8 314.0,317.0C314.8,311.2 315.7,306.2 316.6,300.0C317.5,293.8 318.7,286.1 319.6,280.0C320.5,273.9 321.2,267.8 322.2,263.3C323.2,258.8 324.9,254.7 325.5,253.0" fill="none" stroke="#111" stroke-width="1.45"/>
<path d="M310.0,393.0C310.1,390.0 310.3,381.3 310.5,375.0C310.7,368.7 310.6,361.7 311.0,355.0C311.4,348.3 312.0,341.3 312.6,335.0C313.2,328.7 313.8,322.8 314.6,317.0C315.4,311.2 316.6,306.2 317.6,300.0C318.6,293.8 319.5,286.1 320.4,280.0C321.3,273.9 322.0,269.0 323.0,263.3C324.0,257.6 325.7,248.6 326.2,245.7" fill="none" stroke="#111" stroke-width="1.2" stroke-dasharray="2.4 1.4"/>
<path d="M310.2,392.0C310.4,389.3 310.6,382.1 311.5,376.0C312.4,369.9 314.4,361.7 315.7,355.4C316.9,349.1 317.8,343.8 319.0,338.0C320.2,332.2 321.4,326.8 323.1,320.8C324.9,314.8 327.2,307.6 329.5,302.0C331.8,296.4 334.2,291.6 337.0,287.3C339.8,283.0 343.1,279.4 346.2,276.2C349.3,273.0 352.6,270.2 355.5,267.9C358.4,265.6 362.4,263.2 363.8,262.3" fill="none" stroke="#111" stroke-width="1.45"/>
<path d="M310.4,392.0C310.6,389.3 310.8,382.0 311.7,376.0C312.6,370.0 314.6,362.1 315.9,355.8C317.2,349.5 318.0,343.8 319.6,338.0C321.2,332.2 323.0,326.6 325.4,320.8C327.8,315.0 331.4,308.0 334.0,303.0C336.6,298.0 338.0,295.6 340.7,291.0C343.4,286.4 347.2,279.8 350.0,275.3C352.8,270.8 355.2,267.3 357.3,264.2C359.4,261.1 361.6,258.0 362.5,256.8" fill="none" stroke="#111" stroke-width="1.2" stroke-dasharray="2.4 1.4"/>
<path d="M326.4,240.0L329.3,242.6L326.4,245.2L323.5,242.6Z" fill="#111" stroke="#111" stroke-width="0.3"/>
<path d="M320.4,277.4L323.3,280.0L320.4,282.6L317.5,280.0Z" fill="#111" stroke="#111" stroke-width="0.3"/>
<path d="M314.4,314.4L317.3,317.0L314.4,319.6L311.5,317.0Z" fill="#111" stroke="#111" stroke-width="0.3"/>
<path d="M310.4,352.4L313.3,355.0L310.4,357.6L307.5,355.0Z" fill="#111" stroke="#111" stroke-width="0.3"/>
<path d="M310.4,372.4L313.3,375.0L310.4,377.6L307.5,375.0Z" fill="#111" stroke="#111" stroke-width="0.3"/>
<path d="M363.6,252.6L366.3,255.0L363.6,257.4L360.9,255.0Z" fill="#fff" stroke="#111" stroke-width="0.8"/>
<path d="M346.0,286.0L348.7,288.4L346.0,290.8L343.3,288.4Z" fill="#fff" stroke="#111" stroke-width="0.8"/>
<path d="M323.0,318.0L325.7,320.4L323.0,322.8L320.3,320.4Z" fill="#fff" stroke="#111" stroke-width="0.8"/>
<path d="M315.6,353.6L318.3,356.0L315.6,358.4L312.9,356.0Z" fill="#fff" stroke="#111" stroke-width="0.8"/>
<path d="M313.0,373.0L315.7,375.4L313.0,377.8L310.3,375.4Z" fill="#fff" stroke="#111" stroke-width="0.8"/>
<path d="M310.0,387.9L312.7,390.3L310.0,392.7L307.3,390.3Z" fill="#fff" stroke="#111" stroke-width="0.8"/>
<text x="309.9" y="403.4" font-family='"Liberation Serif", serif' font-size="7.7" text-anchor="middle" fill="#222" stroke="#222" stroke-width="0.2">0</text>
<text x="339.2" y="403.4" font-family='"Liberation Serif", serif' font-size="7.7" text-anchor="middle" fill="#222" stroke="#222" stroke-width="0.2">5</text>
<text x="368.4" y="403.4" font-family='"Liberation Serif", serif' font-size="7.7" text-anchor="middle" fill="#222" stroke="#222" stroke-width="0.2">10</text>
<text x="397.7" y="403.4" font-family='"Liberation Serif", serif' font-size="7.7" text-anchor="middle" fill="#222" stroke="#222" stroke-width="0.2">15</text>
<text x="426.9" y="403.4" font-family='"Liberation Serif", serif' font-size="7.7" text-anchor="middle" fill="#222" stroke="#222" stroke-width="0.2">20</text>
<text x="456.2" y="403.4" font-family='"Liberation Serif", serif' font-size="7.7" text-anchor="middle" fill="#222" stroke="#222" stroke-width="0.2">25</text>
<text x="485.5" y="403.4" font-family='"Liberation Serif", serif' font-size="7.7" text-anchor="middle" fill="#222" stroke="#222" stroke-width="0.2">30</text>
<text x="514.7" y="403.4" font-family='"Liberation Serif", serif' font-size="7.7" text-anchor="middle" fill="#222" stroke="#222" stroke-width="0.2">35</text>
<text x="544.0" y="403.4" font-family='"Liberation Serif", serif' font-size="7.7" text-anchor="middle" fill="#222" stroke="#222" stroke-width="0.2">40</text>
<text x="305.8" y="372.1" font-family='"Liberation Serif", serif' font-size="7.7" text-anchor="end" fill="#222" stroke="#222" stroke-width="0.2">5</text>
<text x="305.8" y="347.5" font-family='"Liberation Serif", serif' font-size="7.7" text-anchor="end" fill="#222" stroke="#222" stroke-width="0.2">10</text>
<text x="305.8" y="323.0" font-family='"Liberation Serif", serif' font-size="7.7" text-anchor="end" fill="#222" stroke="#222" stroke-width="0.2">15</text>
<text x="305.8" y="298.4" font-family='"Liberation Serif", serif' font-size="7.7" text-anchor="end" fill="#222" stroke="#222" stroke-width="0.2">20</text>
<text x="305.8" y="273.9" font-family='"Liberation Serif", serif' font-size="7.7" text-anchor="end" fill="#222" stroke="#222" stroke-width="0.2">25</text>
<text x="305.8" y="249.3" font-family='"Liberation Serif", serif' font-size="7.7" text-anchor="end" fill="#222" stroke="#222" stroke-width="0.2">30</text>
<text x="305.8" y="224.8" font-family='"Liberation Serif", serif' font-size="7.7" text-anchor="end" fill="#222" stroke="#222" stroke-width="0.2">35</text>
<text transform="translate(293.7,308) rotate(-90)" font-family='"Liberation Serif", serif' font-size="9.2" text-anchor="middle" fill="#222" stroke="#222" stroke-width="0.2">Qe (mg/g)</text>
<text x="359.3" y="413.2" font-size="9.82" fill="#222" stroke="#222" stroke-width="0.2" font-family='"Liberation Serif", serif'>Equilibrium concentration</text>
<text x="463.9" y="413.2" font-family='"Liberation Sans", sans-serif' font-size="8" fill="#222" stroke="#222" stroke-width="0.3">:</text>
<text x="467.5" y="413.2" font-family='"Liberation Sans", sans-serif' font-size="8" fill="#222" stroke="#222" stroke-width="0.3">Ce</text>
<text x="480.2" y="413.2" font-family='"Liberation Sans", sans-serif' font-size="8.4" fill="#222" stroke="#222" stroke-width="0.1">(</text>
<text x="484.1" y="413.2" font-family='"Liberation Sans", sans-serif' font-size="8" fill="#222" stroke="#222" stroke-width="0.3" letter-spacing="0.3">mg/L</text>
<text x="504.5" y="413.2" font-family='"Liberation Sans", sans-serif' font-size="8.4" fill="#222" stroke="#222" stroke-width="0.1">)</text>
<text x="330.6" y="425.7" font-size="9" fill="#222" stroke="#222" stroke-width="0.2" font-family='"Liberation Serif", serif'>(d)</text>
<text x="341.5" y="425.5" font-family='"Liberation Sans", sans-serif' font-size="8" fill="#222" stroke="#222" stroke-width="0.2">:</text>
<text x="344.5" y="425.5" font-family='"Liberation Sans", sans-serif' font-size="7.8" fill="#222" stroke="#222" stroke-width="0.25">Isothermal</text>
<text x="384.8" y="425.5" font-family='"Liberation Sans", sans-serif' font-size="7.8" fill="#222" stroke="#222" stroke-width="0.25">adsorption</text>
<text x="423.5" y="425.5" font-family='"Liberation Sans", sans-serif' font-size="7.8" fill="#222" stroke="#222" stroke-width="0.25">of</text>
<text x="433.0" y="425.5" font-family='"Liberation Sans", sans-serif' font-size="8.2" fill="#222" stroke="#222" stroke-width="0.25">Cd</text>
<text x="449.0" y="422.1" font-size="6.5" fill="#222" stroke="#222" stroke-width="0.2" font-family='"Liberation Serif", serif'>2+</text>
<text x="458.6" y="425.7" font-size="9" fill="#222" stroke="#222" stroke-width="0.2" font-family='"Liberation Serif", serif'>by FMBC<tspan font-size="6.5" dy="2">1</tspan><tspan dy="-2"> and FMBC</tspan><tspan font-size="6.5" dy="2">2</tspan></text>
<path d="M481.0,225.2L484.1,228.0L481.0,230.8L477.9,228.0Z" fill="#111" stroke="#111" stroke-width="0.3"/>
<path d="M481.0,234.7L483.9,237.3L481.0,239.9L478.1,237.3Z" fill="#fff" stroke="#111" stroke-width="0.8"/>
<line x1="472.7" y1="247" x2="489.3" y2="247" stroke="#111" stroke-width="1.3"/>
<line x1="472.7" y1="254.6" x2="489.3" y2="254.6" stroke="#111" stroke-width="1.3" stroke-dasharray="2.6 1.6"/>
<text x="489.3" y="230.4" font-size="7.1" fill="#333" stroke="#333" stroke-width="0.1" font-family='"Liberation Serif", serif'>FMBC<tspan font-size="5.2" dy="1.8" dx="0.3">1</tspan></text>
<text x="489.3" y="239.8" font-size="7.1" fill="#333" stroke="#333" stroke-width="0.1" font-family='"Liberation Serif", serif'>FMBC<tspan font-size="5.2" dy="1.8" dx="0.3">2</tspan></text>
<text x="491" y="249.4" font-size="7.1" fill="#333" stroke="#333" stroke-width="0.1" font-family='"Liberation Serif", serif'>Langmuir fitting</text>
<text x="491" y="257.4" font-size="7.1" fill="#333" stroke="#333" stroke-width="0.1" font-family='"Liberation Serif", serif'>Freundlich fitting</text>
</svg></body></html>
